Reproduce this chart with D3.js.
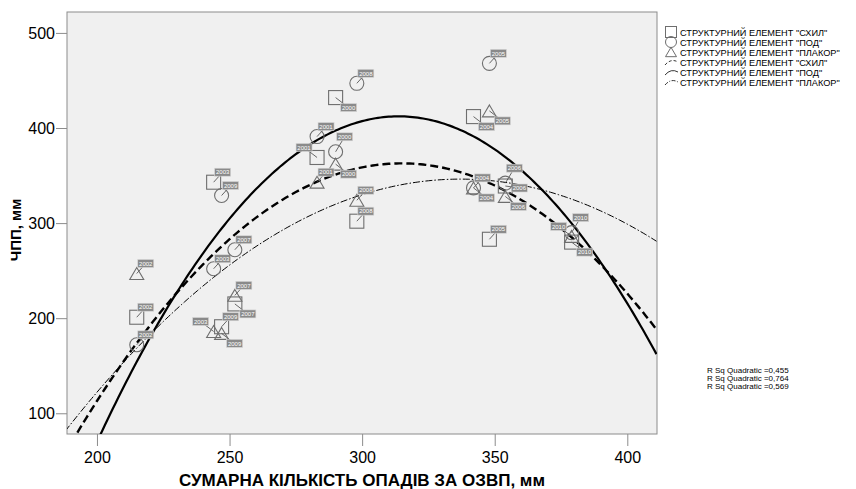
<!DOCTYPE html>
<html>
<head>
<meta charset="utf-8">
<script src="https://cdn.jsdelivr.net/npm/d3@7"></script>
<style>
 body { margin: 0; background: #fff; }
 text { font-family: "Liberation Sans", Arial, sans-serif; }
</style>
</head>
<body>
<script>
'use strict'
// Scatter of ЧПП against summed precipitation, with quadratic fits per structural element

// years and precipitation (x) shared by all series
let years = [2000, 2001, 2002, 2003, 2004, 2005, 2006, 2007, 2008, 2009, 2010];
let precip = [290, 283, 215, 244, 342, 348, 354, 252, 298, 247, 379];

// ЧПП values per structural element
let schyl = [432, 369, 201, 343, 412, 283, 339, 215, 302, 191, 280];
let pod = [375, 391, 172, 252, 337, 468, 342, 272, 447, 329, 290];
let plakor = [362, 343, 247, 186, 337, 418, 328, 224, 324, 184, 286];

let seriesNames = ['СТРУКТУРНИЙ ЕЛЕМЕНТ "СХИЛ"', 'СТРУКТУРНИЙ ЕЛЕМЕНТ "ПОД"', 'СТРУКТУРНИЙ ЕЛЕМЕНТ "ПЛАКОР"'];
let rsqLabels = ['R Sq Quadratic =0,455', 'R Sq Quadratic =0,764', 'R Sq Quadratic =0,569'];

let xTicks = [200, 250, 300, 350, 400];
let yTicks = [100, 200, 300, 400, 500];

// where each year label sits around its marker (layout only)
let labelSide = [
 ['br', 'tl', 'tr', 'tr', 'br', 'tr', 'r', 'br', 'tr', 'tr', 'br'],
 ['hi', 'tr', 'tr', 'tr', 'tr', 'tr', 'hi', 'tr', 'tr', 'tr', 'hi'],
 ['br', 'tr', 'tr', 'tl', 'br', 'br', 'br', 'tr', 'tr', 'br', 'tl']
];
let offsets = {
 tr: [9, -10], br: [13, 10], tl: [-13, -10], r: [14, 2], hi: [9, -15]
};

let width = 856, height = 489;
let plot = { left: 67, right: 657, top: 12, bottom: 434 };

let svg = d3.select('body').append('svg')
 .attr('width', width)
 .attr('height', height);

let x = d3.scaleLinear().domain([188.7, 411.2]).range([plot.left, plot.right]);
let y = d3.scaleLinear().domain([78.2, 522]).range([plot.bottom, plot.top]);

// plot background
svg.append('rect')
 .attr('x', plot.left).attr('y', plot.top)
 .attr('width', plot.right - plot.left).attr('height', plot.bottom - plot.top)
 .attr('fill', '#f0f0f0')
 .attr('stroke', '#8c8c8c')
 .attr('stroke-width', 1);

svg.append('clipPath').attr('id', 'clip')
 .append('rect')
 .attr('x', plot.left).attr('y', plot.top)
 .attr('width', plot.right - plot.left).attr('height', plot.bottom - plot.top);

// axes
let xAxis = svg.append('g')
 .attr('transform', 'translate(0,' + plot.bottom + ')')
 .call(d3.axisBottom(x).tickValues(xTicks).tickSize(12).tickPadding(6).tickFormat(d3.format('d')));
let yAxis = svg.append('g')
 .attr('transform', 'translate(' + plot.left + ',0)')
 .call(d3.axisLeft(y).tickValues(yTicks).tickSize(11).tickPadding(1).tickFormat(d3.format('d')));
[xAxis, yAxis].forEach(function (a) {
 a.select('.domain').remove();
 a.selectAll('.tick line').attr('stroke', '#8c8c8c');
 a.selectAll('.tick text').attr('font-size', 16).attr('fill', '#000')
  .style('font-family', '"Liberation Sans", Arial, sans-serif');
});

svg.append('text')
 .attr('x', 362).attr('y', 486)
 .attr('text-anchor', 'middle')
 .attr('font-size', 17)
 .attr('font-weight', 'bold')
 .text('СУМАРНА КІЛЬКІСТЬ ОПАДІВ ЗА ОЗВП, мм');

svg.append('text')
 .attr('transform', 'translate(21,230) rotate(-90)')
 .attr('text-anchor', 'middle')
 .attr('font-size', 15)
 .attr('font-weight', 'bold')
 .text('ЧПП, мм');

// least squares quadratic fit y = a + b x + c x^2
function quadFit(xs, ys) {
 let n = xs.length, s = [0, 0, 0, 0, 0], t = [0, 0, 0];
 for (let i = 0; i < n; i++) {
  for (let k = 0; k < 5; k++) s[k] += Math.pow(xs[i], k);
  for (let k = 0; k < 3; k++) t[k] += ys[i] * Math.pow(xs[i], k);
 }
 let m = [[s[0], s[1], s[2], t[0]], [s[1], s[2], s[3], t[1]], [s[2], s[3], s[4], t[2]]];
 for (let i = 0; i < 3; i++) {
  for (let j = i + 1; j < 3; j++) {
   let f = m[j][i] / m[i][i];
   for (let k = i; k < 4; k++) m[j][k] -= f * m[i][k];
  }
 }
 let c = [0, 0, 0];
 for (let i = 2; i >= 0; i--) {
  let v = m[i][3];
  for (let k = i + 1; k < 3; k++) v -= m[i][k] * c[k];
  c[i] = v / m[i][i];
 }
 return function (v) { return c[0] + c[1] * v + c[2] * v * v; };
}

let lineStyles = [
 { width: 2.4, dash: '8,4' },
 { width: 2.2, dash: null },
 { width: 1, dash: '7,2,1.5,2' }
];
let allSeries = [schyl, pod, plakor];

let curves = svg.append('g').attr('clip-path', 'url(#clip)');
let xs = d3.range(188, 412, 1);
allSeries.forEach(function (vals, i) {
 let f = quadFit(precip, vals);
 curves.append('path')
  .datum(xs)
  .attr('fill', 'none')
  .attr('stroke', '#000')
  .attr('stroke-width', lineStyles[i].width)
  .attr('stroke-dasharray', lineStyles[i].dash)
  .attr('d', d3.line().x(function (d) { return x(d); }).y(function (d) { return y(f(d)); }));
});

// marker shapes
function drawMarker(g, kind, cx, cy, size) {
 if (kind === 0) {
  g.append('rect').attr('x', cx - size / 2).attr('y', cy - size / 2)
   .attr('width', size).attr('height', size);
 } else if (kind === 1) {
  g.append('circle').attr('cx', cx).attr('cy', cy).attr('r', size / 2);
 } else {
  let h = size * 0.85;
  g.append('path').attr('d', 'M' + cx + ',' + (cy - h / 2) + 'L' + (cx + size / 2) + ',' + (cy + h / 2) +
   'L' + (cx - size / 2) + ',' + (cy + h / 2) + 'Z');
 }
}

let markers = svg.append('g');
allSeries.forEach(function (vals, i) {
 vals.forEach(function (v, j) {
  let cx = x(precip[j]), cy = y(v);
  let off = offsets[labelSide[i][j]];
  let g = markers.append('g');
  g.append('line')
   .attr('x1', cx).attr('y1', cy)
   .attr('x2', cx + off[0]).attr('y2', cy + off[1])
   .attr('stroke', '#444').attr('stroke-width', 0.8);
  let mg = g.append('g').attr('fill', 'none').attr('stroke', '#6e6e6e').attr('stroke-width', 1.1);
  drawMarker(mg, i, cx, cy, 14);
  g.append('rect')
   .attr('x', cx + off[0] - 8).attr('y', cy + off[1] - 4)
   .attr('width', 16).attr('height', 8)
   .attr('fill', '#8a8a8a').attr('stroke', '#d8d8d8').attr('stroke-width', 0.6);
  g.append('text')
   .attr('x', cx + off[0]).attr('y', cy + off[1] + 2.2)
   .attr('text-anchor', 'middle')
   .attr('font-size', 6)
   .attr('fill', '#fff')
   .text(years[j]);
 });
});

// legend
let legend = svg.append('g');
let rowY = [33, 43, 53, 63, 73, 83];
seriesNames.forEach(function (name, i) {
 let mg = legend.append('g').attr('fill', 'none').attr('stroke', '#6e6e6e').attr('stroke-width', 1);
 drawMarker(mg, i, 671, rowY[i] - 1, 11);
 legend.append('text').attr('x', 680).attr('y', rowY[i] + 3)
  .attr('font-size', 9.2).text(name);
});
seriesNames.forEach(function (name, i) {
 let ly = rowY[i + 3];
 legend.append('path')
  .attr('d', 'M665,' + (ly + 2) + 'Q671,' + (ly - 5) + ' 678,' + (ly - 1))
  .attr('fill', 'none').attr('stroke', '#000')
  .attr('stroke-width', 0.8)
  .attr('stroke-dasharray', i === 0 ? '3,2' : i === 2 ? '4,1.5,1,1.5' : null);
 legend.append('text').attr('x', 680).attr('y', ly + 3)
  .attr('font-size', 9.2).text(name);
});

// R squared notes
rsqLabels.forEach(function (t, i) {
 svg.append('text')
  .attr('x', 707).attr('y', 373 + i * 8)
  .attr('font-size', 8)
  .text(t);
});
</script>
</body>
</html>
